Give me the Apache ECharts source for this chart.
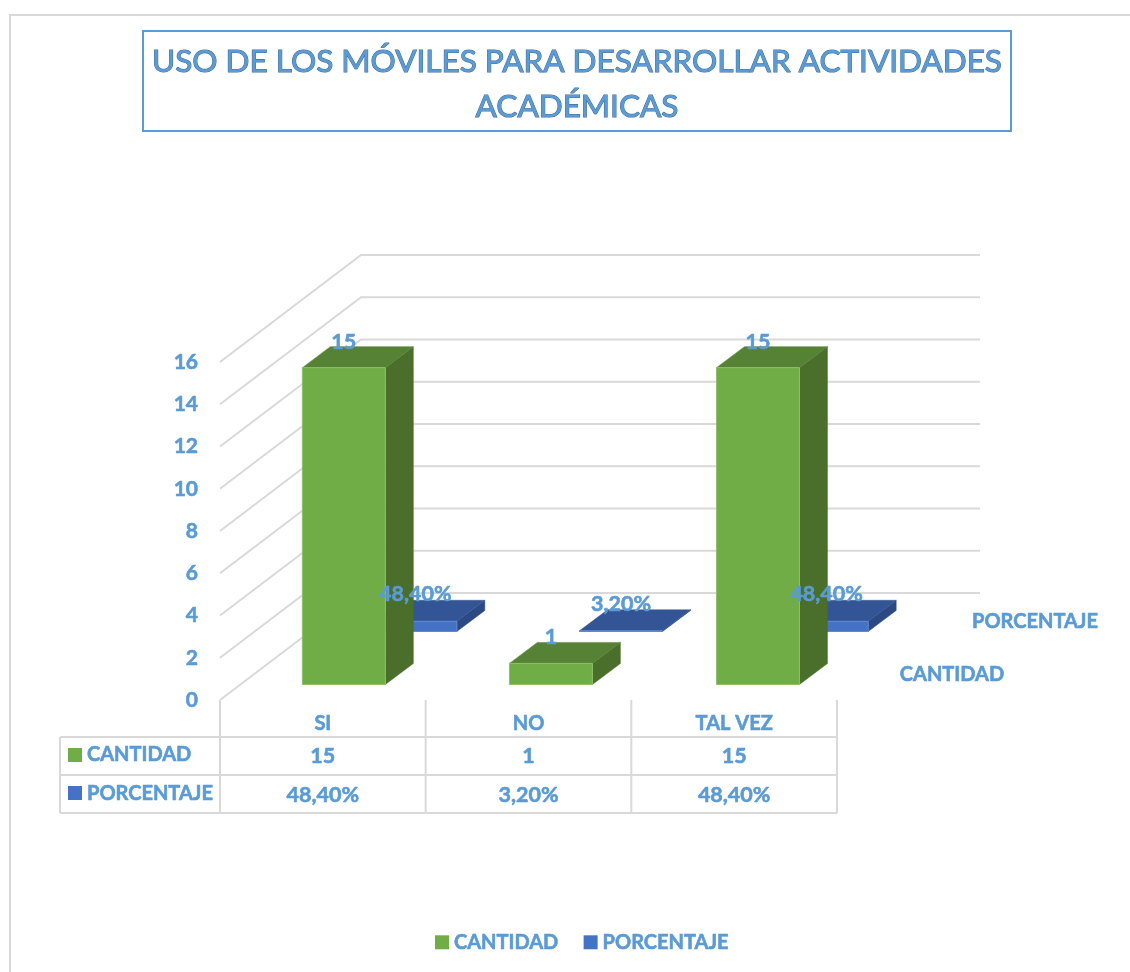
<!DOCTYPE html>
<html>
<head>
<meta charset="utf-8">
<title>Uso de los móviles</title>
<script src="https://cdn.jsdelivr.net/npm/echarts@6/dist/echarts.min.js"></script>
<style>
  html, body { margin: 0; padding: 0; background: #fff; }
  #main { width: 1130px; height: 972px; }
</style>
</head>
<body>
<div id="main"></div>
<script>
const categories = ["SI", "NO", "TAL VEZ"];
const cantidad = [15, 1, 15];
const porcentaje = [0.484, 0.032, 0.484];
const yTicks = [0, 2, 4, 6, 8, 10, 12, 14, 16];

const BLUE_TEXT = "#5b9bd5";
const LINE = "#d9d9d9";
const FONT = "Lato";
const HEAVY = 0.6;
const BAR_W = 83;
// excel 3d look: how far a series sits back on the floor, and the bar depth
const BACK_DX = 141, BACK_DY = 107;
const DEPTH_DX = 28, DEPTH_DY = 21;
const GREEN = { dx: 21, dy: 15.5, spread: 1.4, front: "#70ad47", top: "#568235", side: "#4a6f2a", edge: "#8fc06e" };
const BLUE = { dx: 92.5, dy: 68.5, spread: 0, front: "#4472c4", top: "#345595", side: "#2b4a84", edge: "#5f88d0" };

function fmtPct(v) {
  return (v * 100).toFixed(2).replace(".", ",") + "%";
}

function boxItem(look) {
  return function (params, api) {
    const i = api.value(0);
    const base = api.coord([i, 0]);
    const top = api.coord([i, api.value(1)]);
    const l = base[0] - BAR_W / 2 + look.dx + i * look.spread;
    const r = l + BAR_W;
    const yb = base[1] - look.dy;
    const yt = top[1] - look.dy;
    const poly = function (pts, fill) {
      return { type: "polygon", shape: { points: pts }, style: { fill: fill, stroke: fill, lineWidth: 0.5 } };
    };
    return {
      type: "group",
      children: [
        poly([[r, yb], [r + DEPTH_DX, yb - DEPTH_DY], [r + DEPTH_DX, yt - DEPTH_DY], [r, yt]], look.side),
        poly([[l, yt], [r, yt], [r + DEPTH_DX, yt - DEPTH_DY], [l + DEPTH_DX, yt - DEPTH_DY]], look.top),
        {
          type: "rect",
          shape: { x: l, y: yt, width: BAR_W, height: yb - yt },
          style: { fill: look.front, stroke: look.edge, lineWidth: 1 }
        }
      ]
    };
  };
}

function textStyle(t, x, y, size, align) {
  return {
    text: t,
    x: x,
    y: y,
    fill: BLUE_TEXT,
    stroke: BLUE_TEXT,
    lineWidth: HEAVY,
    font: "bold " + size + "px " + FONT,
    align: align || "center",
    verticalAlign: "middle"
  };
}

function labelItem(look, lift, fmt) {
  return function (params, api) {
    const i = api.value(0);
    const top = api.coord([i, api.value(1)]);
    return {
      type: "text",
      style: textStyle(fmt(api.value(1)), top[0] + look.dx + i * look.spread, top[1] - look.dy - lift, 21.5)
    };
  };
}

function wallItem(params, api) {
  const p = api.coord([0, api.value(1)]);
  const g = params.coordSys;
  return {
    type: "polyline",
    shape: {
      points: [
        [g.x, p[1]],
        [g.x + BACK_DX, p[1] - BACK_DY],
        [g.x + g.width + BACK_DX + 2, p[1] - BACK_DY]
      ]
    },
    style: { fill: "none", stroke: LINE, lineWidth: 2 }
  };
}

function tableItem(params, api) {
  const i = api.value(0);
  const c = api.coord([i, 0]);
  const band = api.size([1, 0])[0];
  const l = c[0] - band / 2;
  const r = c[0] + band / 2;
  const line = function (x1, y1, x2, y2) {
    return { type: "line", shape: { x1: x1, y1: y1, x2: x2, y2: y2 }, style: { stroke: LINE, lineWidth: 2 } };
  };
  const kids = [
    line(l, c[1], l, c[1] + 113),
    line(l, c[1] + 37, r, c[1] + 37),
    line(l, c[1] + 75, r, c[1] + 75),
    line(l, c[1] + 113, r, c[1] + 113),
    { type: "text", style: textStyle(String(cantidad[i]), c[0], c[1] + 56, 21.5) },
    { type: "text", style: textStyle(fmtPct(porcentaje[i]), c[0], c[1] + 95, 21.5) }
  ];
  if (i === categories.length - 1) kids.push(line(r, c[1], r, c[1] + 113));
  return { type: "group", children: kids };
}

function sideText(t, x, y, align) {
  return { type: "text", z: 10, style: textStyle(t, x, y, 20, align) };
}

const myChart = echarts.init(document.getElementById("main"));
myChart.setOption({
  animation: false,
  title: {
    text: "USO DE LOS MÓVILES PARA DESARROLLAR ACTIVIDADES\nACADÉMICAS",
    left: 572,
    top: 34,
    textAlign: "center",
    textStyle: {
      color: BLUE_TEXT,
      fontFamily: FONT,
      fontWeight: "normal",
      fontSize: 31.5,
      lineHeight: 45,
      textBorderColor: "#44719f",
      textBorderWidth: 1.1
    }
  },
  legend: {
    left: 430,
    top: 927,
    icon: "rect",
    itemWidth: 14,
    itemHeight: 14,
    itemGap: 25,
    data: ["CANTIDAD", "PORCENTAJE"],
    textStyle: {
      color: BLUE_TEXT,
      fontFamily: FONT,
      fontWeight: "bold",
      fontSize: 20,
      textBorderColor: BLUE_TEXT,
      textBorderWidth: HEAVY
    }
  },
  grid: { left: 220, top: 362, width: 617, height: 338 },
  xAxis: {
    type: "category",
    data: categories,
    axisLine: { show: false },
    axisTick: { show: false },
    axisLabel: {
      color: BLUE_TEXT,
      fontFamily: FONT,
      fontWeight: "bold",
      fontSize: 20,
      margin: 14,
      textBorderColor: BLUE_TEXT,
      textBorderWidth: HEAVY
    }
  },
  yAxis: {
    type: "value",
    min: 0,
    max: 16,
    interval: 2,
    splitLine: { show: false },
    axisLine: { show: false },
    axisTick: { show: false },
    axisLabel: {
      color: BLUE_TEXT,
      fontFamily: FONT,
      fontWeight: "bold",
      fontSize: 21,
      margin: 22,
      padding: [2, 0, 0, 0],
      textBorderColor: BLUE_TEXT,
      textBorderWidth: HEAVY
    }
  },
  series: [
    { type: "custom", z: 1, silent: true, renderItem: wallItem, data: yTicks.map((t) => [0, t]) },
    { type: "custom", z: 1, silent: true, renderItem: tableItem, data: categories.map((c, i) => [i, 0]) },
    {
      name: "PORCENTAJE", type: "custom", z: 2, silent: true,
      itemStyle: { color: BLUE.front },
      renderItem: boxItem(BLUE),
      data: porcentaje.map((v, i) => [i, v])
    },
    {
      name: "CANTIDAD", type: "custom", z: 3, silent: true,
      itemStyle: { color: GREEN.front },
      renderItem: boxItem(GREEN),
      data: cantidad.map((v, i) => [i, v])
    },
    { type: "custom", z: 4, silent: true, renderItem: labelItem(BLUE, 27, fmtPct), data: porcentaje.map((v, i) => [i, v]) },
    { type: "custom", z: 4, silent: true, renderItem: labelItem(GREEN, 26, String), data: cantidad.map((v, i) => [i, v]) }
  ],
  graphic: [
    { type: "rect", z: 0, shape: { x: 10, y: 15, width: 1200, height: 1100 }, style: { fill: "none", stroke: LINE, lineWidth: 2 } },
    { type: "rect", z: 0, shape: { x: 143, y: 31, width: 868, height: 100 }, style: { fill: "none", stroke: BLUE_TEXT, lineWidth: 2 } },
    { type: "line", z: 1, shape: { x1: 60, y1: 737, x2: 220, y2: 737 }, style: { stroke: LINE, lineWidth: 2 } },
    { type: "line", z: 1, shape: { x1: 60, y1: 775, x2: 220, y2: 775 }, style: { stroke: LINE, lineWidth: 2 } },
    { type: "line", z: 1, shape: { x1: 60, y1: 813, x2: 220, y2: 813 }, style: { stroke: LINE, lineWidth: 2 } },
    { type: "line", z: 1, shape: { x1: 60, y1: 737, x2: 60, y2: 813 }, style: { stroke: LINE, lineWidth: 2 } },
    { type: "rect", z: 5, shape: { x: 68, y: 748, width: 14, height: 14 }, style: { fill: GREEN.front } },
    { type: "rect", z: 5, shape: { x: 68, y: 786, width: 14, height: 14 }, style: { fill: BLUE.front } },
    sideText("CANTIDAD", 87, 755, "left"),
    sideText("PORCENTAJE", 87, 794, "left"),
    sideText("PORCENTAJE", 1035, 621.5),
    sideText("CANTIDAD", 952, 675)
  ]
});

window.onresize = () => {
  myChart.resize();
};
</script>
</body>
</html>
